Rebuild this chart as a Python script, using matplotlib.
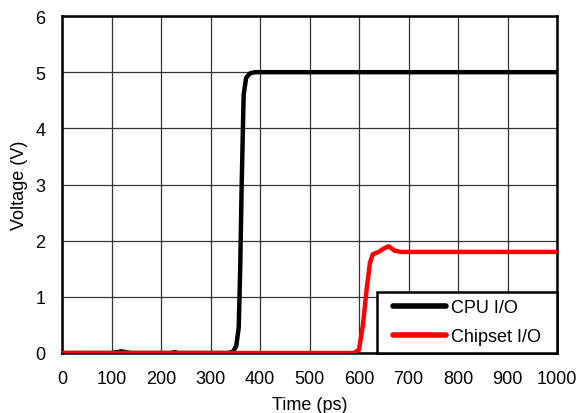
import matplotlib
matplotlib.use("Agg")
import matplotlib.pyplot as plt
from matplotlib.patches import Rectangle
from matplotlib.transforms import IdentityTransform
from matplotlib.legend_handler import HandlerLine2D
from matplotlib.lines import Line2D

cpu_t = [0, 100, 115, 120, 125, 140, 220, 228, 235, 335, 345, 352, 357, 360, 363, 367, 372, 380, 390, 1000]
cpu_v = [0, 0, 0.02, 0.03, 0.02, 0, 0, 0.015, 0, 0, 0.02, 0.12, 0.45, 1.5, 3.0, 4.6, 4.9, 4.98, 5.0, 5.0]

chip_t = [0, 590, 600, 608, 615, 622, 628, 640, 650, 660, 672, 685, 1000]
chip_v = [0, 0, 0.06, 0.5, 1.1, 1.6, 1.76, 1.8, 1.86, 1.9, 1.82, 1.8, 1.8]

x_ticks = [0, 100, 200, 300, 400, 500, 600, 700, 800, 900, 1000]
y_ticks = [0, 1, 2, 3, 4, 5, 6]

plt.rcParams['font.family'] = ['Liberation Sans', 'DejaVu Sans']
FS = 13

fig = plt.figure(figsize=(5.78, 4.14), dpi=100)
ax = fig.add_axes([62/578, 1 - 354/414, (557-62)/578, (354-17)/414])

ax.plot(cpu_t, cpu_v, color='black', lw=3.2, label='CPU I/O', solid_capstyle='round', zorder=3)
ax.plot(chip_t, chip_v, color='#ff0000', lw=3.2, label='Chipset I/O', solid_capstyle='round', zorder=4)

ax.set_xlim(0, 1000)
ax.set_ylim(0, 6)
ax.set_xticks(x_ticks)
ax.set_yticks(y_ticks)
ax.tick_params(axis='both', labelsize=FS, length=0, pad=12)
ax.grid(True, color='#333333', lw=0.9)
ax.set_axisbelow(True)
for s in ax.spines.values():
    s.set_linewidth(1.8)
    s.set_color('black')

ax.set_xlabel('Time (ps)', fontsize=FS)
ax.set_ylabel('Voltage (V)', fontsize=FS)
ax.xaxis.set_label_coords(0.5, -0.128)
ax.yaxis.set_label_coords(-0.069, 0.5)

pad_px = 8
leg = ax.legend(loc='lower right', fontsize=FS, frameon=False,
                bbox_to_anchor=(1 - pad_px/495, 0), borderaxespad=0,
                handlelength=3.85, handletextpad=-0.15, labelspacing=0.68,
                borderpad=0.42, numpoints=2,
                handler_map={Line2D: HandlerLine2D(marker_pad=0.45, numpoints=2)})
leg.set_zorder(10)
for line in leg.get_lines():
    line.set_linewidth(4)
    line.set_solid_capstyle('round')

fig.canvas.draw()
bb = leg.get_window_extent()
rect = Rectangle((bb.x0, bb.y0), bb.width + pad_px, bb.height,
                 transform=IdentityTransform(), facecolor='white', edgecolor='black',
                 linewidth=1.8, zorder=9, clip_on=False)
ax.add_artist(rect)

fig.savefig('out.png', dpi=100)
